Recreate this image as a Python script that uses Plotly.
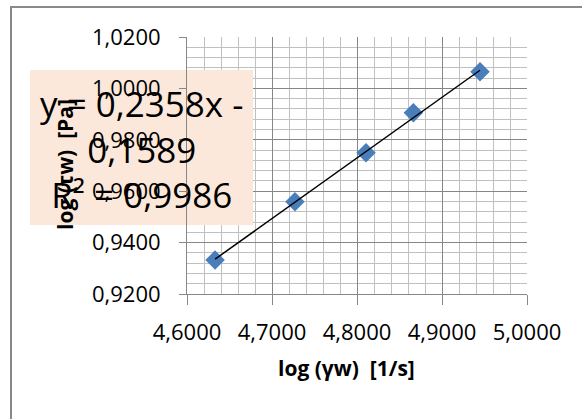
import plotly.graph_objects as go

# Measured points: log shear rate vs log shear stress
log_gamma = [4.6330, 4.7270, 4.8106, 4.8663, 4.9447]
log_tau = [0.9332, 0.9559, 0.9750, 0.9905, 1.0065]

# Linear trendline coefficients and fit quality
slope = 0.2358
intercept = -0.1589
r_squared = 0.9986

x_range = [4.6, 5.0]
y_range = [0.92, 1.02]

FONT = "Open Sans"

# Figure size and plot-area margins (pixels)
W, H = 582, 419
ML, MR, MT, MB = 187, 55, 37, 125
PW, PH = W - ML - MR, H - MT - MB


def px_to_paper_x(px):
    return (px - ML) / PW


def px_to_paper_y(py):
    return (H - MB - py) / PH


def fmt(v, nd=4):
    return f"{v:.{nd}f}".replace(".", ",")


trend_x = [min(log_gamma), max(log_gamma)]
trend_y = [slope * v + intercept for v in trend_x]

fig = go.Figure()
fig.add_trace(go.Scatter(
    x=log_gamma, y=log_tau, mode="markers",
    marker=dict(symbol="diamond", size=15, color="#4A7EBB", line=dict(width=0)),
    showlegend=False, hoverinfo="skip",
))
fig.add_trace(go.Scatter(
    x=trend_x, y=trend_y, mode="lines",
    line=dict(color="black", width=1.5),
    showlegend=False, hoverinfo="skip",
))

grid_major = "#878787"
grid_minor = "#C0C0C0"

fig.update_xaxes(
    range=x_range, dtick=0.1, tick0=4.6, tickformat=".4f",
    showgrid=True, gridcolor=grid_major, gridwidth=1,
    minor=dict(dtick=0.02, showgrid=True, gridcolor=grid_minor, gridwidth=1),
    showline=True, linecolor=grid_major, linewidth=1, mirror=False,
    ticks="outside", ticklen=10, tickcolor=grid_major,
    tickfont=dict(family=FONT, size=22, color="black"),
    ticklabelstandoff=9,
    zeroline=False, fixedrange=True,
)
fig.update_yaxes(
    range=y_range, dtick=0.02, tick0=0.92, tickformat=".4f",
    showgrid=True, gridcolor=grid_major, gridwidth=1,
    minor=dict(dtick=0.004, showgrid=True, gridcolor=grid_minor, gridwidth=1),
    showline=True, linecolor=grid_major, linewidth=1, mirror=False,
    ticks="outside", ticklen=7, tickcolor=grid_major,
    tickfont=dict(family=FONT, size=22, color="black"),
    ticklabelstandoff=14,
    zeroline=False, fixedrange=True,
)

# Chart outer border
fig.add_shape(
    type="rect", xref="paper", yref="paper",
    x0=px_to_paper_x(11), x1=px_to_paper_x(W + 20),
    y0=px_to_paper_y(H + 20), y1=px_to_paper_y(7),
    line=dict(color="#898989", width=2), fillcolor="rgba(0,0,0,0)", layer="below",
)

# Trendline label box (outside part below the axis labels, inside part over the grid)
box = dict(x0=30, x1=253, y0=70, y1=225)
fig.add_shape(
    type="rect", xref="paper", yref="paper",
    x0=px_to_paper_x(box["x0"]), x1=px_to_paper_x(box["x1"]),
    y0=px_to_paper_y(box["y1"]), y1=px_to_paper_y(box["y0"]),
    line=dict(width=0), fillcolor="#FCE8DA", layer="below",
)
fig.add_shape(
    type="rect", xref="x", yref="y",
    x0=x_range[0], x1=x_range[0] + (box["x1"] - ML) / PW * (x_range[1] - x_range[0]),
    y0=y_range[0] + (H - MB - box["y1"]) / PH * (y_range[1] - y_range[0]),
    y1=y_range[0] + (H - MB - box["y0"]) / PH * (y_range[1] - y_range[0]),
    line=dict(width=0), fillcolor="#FCE8DA", layer="above",
)

sign = "-" if intercept < 0 else "+"
label = (f"y = {fmt(slope)}x {sign}<br>{fmt(abs(intercept))}<br>"
         f"R² = {fmt(r_squared)}")
fig.add_annotation(
    xref="paper", yref="paper",
    x=px_to_paper_x((box["x0"] + box["x1"]) / 2), y=px_to_paper_y((box["y0"] + box["y1"]) / 2 + 1),
    text=label, showarrow=False, align="center",
    font=dict(family=FONT, size=35, color="black"),
    xanchor="center", yanchor="middle",
)

# Axis titles
fig.add_annotation(
    xref="paper", yref="paper",
    x=px_to_paper_x(346), y=px_to_paper_y(368),
    text="<b>log (γw)  [1/s]</b>", showarrow=False,
    font=dict(family=FONT, size=21, color="black"),
    xanchor="center", yanchor="middle",
)
fig.add_annotation(
    xref="paper", yref="paper",
    x=px_to_paper_x(65), y=px_to_paper_y(165),
    text="<b>log (τw)  [Pa]</b>", showarrow=False, textangle=-90,
    font=dict(family=FONT, size=21, color="black"),
    xanchor="center", yanchor="middle",
)

fig.update_layout(
    width=W, height=H,
    margin=dict(l=ML, r=MR, t=MT, b=MB, pad=0),
    paper_bgcolor="white", plot_bgcolor="white",
    separators=", ",
    showlegend=False,
)

fig.write_html("out.html")
